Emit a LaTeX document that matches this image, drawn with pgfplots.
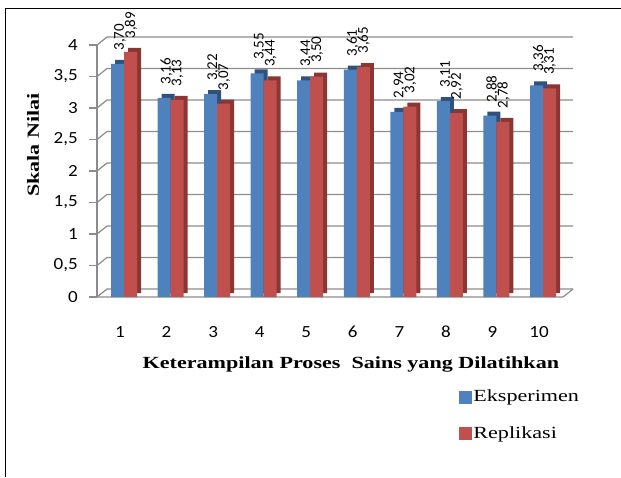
\documentclass[border=0pt]{standalone}
\usepackage{pgfplots}
\pgfplotsset{compat=1.18}
\usepackage{pgfplotstable}
\usepackage{fontspec}
\setmainfont{Liberation Serif}
\newfontfamily\wserif[FakeStretch=1.3]{Liberation Serif}
\newfontfamily\carlw[FakeStretch=1.12]{Carlito}
\newfontfamily\carl{Carlito}
\definecolor{bF}{HTML}{4F81BD}
\definecolor{bD}{HTML}{30507E}
\definecolor{rF}{HTML}{C0504D}
\definecolor{rD}{HTML}{8A3633}
\definecolor{gl}{HTML}{8C8C8C}
\pgfplotstableread{
x e r
1 3.70 3.89
2 3.16 3.13
3 3.22 3.07
4 3.55 3.44
5 3.44 3.50
6 3.61 3.65
7 2.94 3.02
8 3.11 2.92
9 2.88 2.78
10 3.36 3.31
}\datatable
\newcommand{\numlab}{{\carl\fontsize{15}{15}\selectfont\pgfmathprintnumber[fixed,fixed zerofill,precision=2,use comma,assume math mode=true]{\pgfplotspointmeta}}}
\newcommand{\blab}{\rotatebox{90}{\hspace*{10pt}\numlab}\hspace*{8pt}}
\newcommand{\rlab}{\hspace*{14pt}\rotatebox{90}{\hspace*{10pt}\numlab}}
\begin{document}
\begin{tikzpicture}[x=1pt,y=1pt]
\useasboundingbox (0,0) rectangle (621,477);
\draw[line width=1.8pt] (5.5,0) -- (5.5,468.5) -- (621,468.5);
\begin{axis}[
 at={(97pt,180pt)}, anchor=south west,
 scale only axis, width=469.3pt, height=252pt,
 xmin=0.42, xmax=10.5, ymin=0, ymax=4,
 axis line style={draw=none},
 major tick length=0pt,
 xtick={1,2,3,4,5,6,7,8,9,10},
 ytick={0,0.5,1,1.5,2,2.5,3,3.5,4},
 clip=false,
 /pgf/number format/.cd, use comma, assume math mode=true, /pgfplots/.cd,
 xticklabel style={font=\carlw\fontsize{17}{17}\selectfont, anchor=center, inner sep=0pt, yshift=-35pt, xshift=-4pt},
 yticklabel style={font=\carlw\fontsize{17}{17}\selectfont, anchor=east, inner sep=0pt, xshift=-19pt},
 xlabel={Keterampilan Proses\ \ Sains yang Dilatihkan},
 xlabel style={font=\wserif\bfseries\fontsize{17}{17}\selectfont, at={(axis description cs:0.541,-0.282)}, anchor=base, inner sep=0pt},
 ylabel={Skala Nilai},
 ylabel style={font=\wserif\bfseries\fontsize{17}{17}\selectfont, at={(axis description cs:-0.1364,0.603)}, anchor=center, inner sep=0pt},
 legend style={at={(axis description cs:0.771,-0.361)}, anchor=north west, draw=none, fill=none, font=\wserif\fontsize{17}{17}\selectfont, row sep=19pt, inner sep=0pt, nodes={inner sep=2pt}},
 legend cell align=left,
]
\pgfplotsinvokeforeach{0,0.5,1,1.5,2,2.5,3,3.5,4}{
  \draw[gl, line width=1.2pt] (axis cs:0.42,#1) -- ++(10pt,8pt) -- ([shift={(10pt,8pt)}]axis cs:10.43,#1);
  \draw[gl, line width=1.2pt] (axis cs:0.42,#1) -- ++(-8pt,0pt);
}
\draw[gl, line width=1.2pt] (axis cs:0.42,0) -- (axis cs:0.42,4);
\draw[gl, line width=1.2pt] (axis cs:0.42,0) -- (axis cs:10.43,0) -- ++(10pt,8pt);

\addplot[ybar, bar width=13pt, bar shift=-6.5pt, fill=bD, draw=none, forget plot, transform canvas={xshift=4pt,yshift=4pt}] table[x=x,y=e]{\datatable};
\addplot[ybar, bar width=13pt, bar shift=-6.5pt, fill=bF, draw=none, forget plot,
  nodes near coords={\blab}] table[x=x,y=e]{\datatable};
\addplot[ybar, bar width=13pt, bar shift=6.5pt, fill=rD, draw=none, forget plot, transform canvas={xshift=4pt,yshift=4pt}] table[x=x,y=r]{\datatable};
\addplot[ybar, bar width=13pt, bar shift=6.5pt, fill=rF, draw=none, forget plot,
  nodes near coords={\rlab}] table[x=x,y=r]{\datatable};
\addlegendimage{legend image code/.code={\fill[bF] (0pt,-6pt) rectangle (12pt,6pt);}}
\addlegendentry{Eksperimen}
\addlegendimage{legend image code/.code={\fill[rF] (0pt,-6pt) rectangle (12pt,6pt);}}
\addlegendentry{Replikasi}
\end{axis}
\end{tikzpicture}
\end{document}
